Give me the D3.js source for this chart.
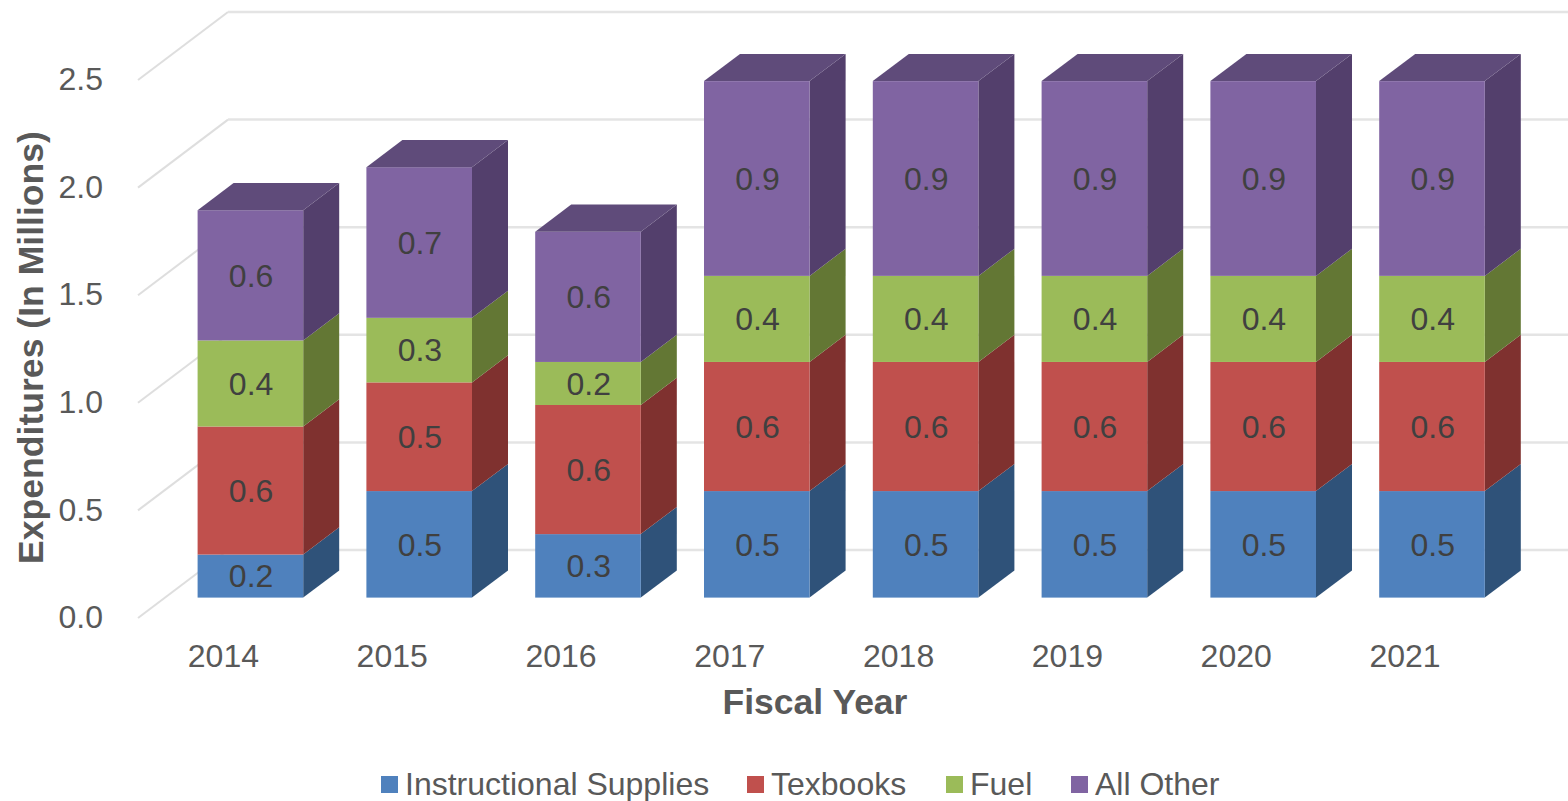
<!DOCTYPE html>
<html>
<head>
<meta charset="utf-8">
<script src="https://cdnjs.cloudflare.com/ajax/libs/d3/7.8.5/d3.min.js"></script>
<style>
html, body { margin: 0; padding: 0; background: #fff; }
svg { display: block; }
text { font-family: "Liberation Sans", Arial, sans-serif; }
</style>
</head>
<body>
<div id="chart"></div>
<script>
'use strict';

var years = ['2014', '2015', '2016', '2017', '2018', '2019', '2020', '2021'];
var seriesNames = ['Instructional Supplies', 'Texbooks', 'Fuel', 'All Other'];
var supplies = [0.2, 0.495, 0.295, 0.495, 0.495, 0.495, 0.495, 0.495];
var textbooks = [0.595, 0.505, 0.6, 0.6, 0.6, 0.6, 0.6, 0.6];
var fuel = [0.4, 0.3, 0.2, 0.4, 0.4, 0.4, 0.4, 0.4];
var allOther = [0.605, 0.7, 0.605, 0.905, 0.905, 0.905, 0.905, 0.905];
var yTicks = [0, 0.5, 1, 1.5, 2, 2.5];

var frontColors = ['#4f81bd', '#c0504d', '#9bbb59', '#8064a2'];
var sideColors = ['#2f5279', '#7f312f', '#637734', '#533f6c'];
var topColor = '#5f4b7a';

var width = 1568;
var height = 801;
var wallDx = 90;
var wallDy = 68;
var barDepth = 0.4;
var barOffset = 0.3;

var svg = d3.select('#chart')
    .append('svg')
    .attr('width', width)
    .attr('height', height);

var x = d3.scaleBand()
    .domain(years)
    .range([139, 139 + 168.8 * years.length])
    .paddingInner(0.3744)
    .paddingOuter(0.1872);

var y = d3.scaleLinear()
    .domain([0, 2.5])
    .range([618, 80]);

// floor + back wall grid
var grid = svg.append('g').attr('fill', 'none');

grid.selectAll('.side-line')
    .data(yTicks)
    .enter()
    .append('path')
    .attr('stroke', '#dedede')
    .attr('stroke-width', 2)
    .attr('d', function(d) {
        return 'M138,' + y(d) + 'L' + (138 + wallDx) + ',' + (y(d) - wallDy);
    });

grid.selectAll('.back-line')
    .data(yTicks)
    .enter()
    .append('path')
    .attr('stroke', '#e4e4e4')
    .attr('stroke-width', 2.5)
    .attr('d', function(d) {
        return 'M' + (138 + wallDx) + ',' + (y(d) - wallDy) + 'H' + width;
    });

// stacked bars
var rows = years.map(function(year, i) {
    return {
        year: year,
        s0: supplies[i],
        s1: textbooks[i],
        s2: fuel[i],
        s3: allOther[i]
    };
});

var stacked = d3.stack().keys(['s0', 's1', 's2', 's3'])(rows);

var depthX = wallDx * barDepth;
var depthY = wallDy * barDepth;
var shiftX = wallDx * barOffset;
var shiftY = wallDy * barOffset;

function frontX(d) {
    return x(d.data.year) + shiftX;
}

function frontY(v) {
    return y(v) - shiftY;
}

var layers = svg.selectAll('.layer')
    .data(stacked)
    .enter()
    .append('g')
    .attr('class', 'layer');

layers.each(function(layer, n) {
    var g = d3.select(this);

    g.selectAll('.side')
        .data(layer)
        .enter()
        .append('path')
        .attr('fill', sideColors[n])
        .attr('d', function(d) {
            var r = frontX(d) + x.bandwidth();
            return 'M' + r + ',' + frontY(d[0]) +
                'L' + (r + depthX) + ',' + (frontY(d[0]) - depthY) +
                'L' + (r + depthX) + ',' + (frontY(d[1]) - depthY) +
                'L' + r + ',' + frontY(d[1]) + 'Z';
        });

    g.selectAll('.front')
        .data(layer)
        .enter()
        .append('rect')
        .attr('fill', frontColors[n])
        .attr('x', frontX)
        .attr('y', function(d) { return frontY(d[1]); })
        .attr('width', x.bandwidth())
        .attr('height', function(d) { return frontY(d[0]) - frontY(d[1]); });

    if (n === stacked.length - 1) {
        g.selectAll('.top')
            .data(layer)
            .enter()
            .append('path')
            .attr('fill', topColor)
            .attr('d', function(d) {
                var l = frontX(d);
                var t = frontY(d[1]);
                return 'M' + l + ',' + t +
                    'L' + (l + depthX) + ',' + (t - depthY) +
                    'L' + (l + x.bandwidth() + depthX) + ',' + (t - depthY) +
                    'L' + (l + x.bandwidth()) + ',' + t + 'Z';
            });
    }

    g.selectAll('.value')
        .data(layer)
        .enter()
        .append('text')
        .attr('x', function(d) { return frontX(d) + x.bandwidth() / 2 + 0.7; })
        .attr('y', function(d) { return (frontY(d[0]) + frontY(d[1])) / 2; })
        .attr('dy', '0.35em')
        .attr('text-anchor', 'middle')
        .attr('font-size', 32)
        .attr('fill', '#404040')
        .text(function(d) { return d3.format('.1f')(d[1] - d[0]); });
});

// axes
var xAxis = svg.append('g')
    .attr('transform', 'translate(0,618)')
    .call(d3.axisBottom(x).tickSize(0).tickPadding(26));

var yAxis = svg.append('g')
    .attr('transform', 'translate(138,0)')
    .call(d3.axisLeft(y).tickValues(yTicks).tickFormat(d3.format('.1f')).tickSize(0).tickPadding(35));

[xAxis, yAxis].forEach(function(axis) {
    axis.select('.domain').remove();
    axis.selectAll('text')
        .attr('font-size', 32)
        .attr('font-family', '"Liberation Sans", Arial, sans-serif')
        .attr('fill', '#595959');
});

yAxis.selectAll('text').attr('dy', '0.3em');

// titles
svg.append('text')
    .attr('x', 815)
    .attr('y', 714)
    .attr('text-anchor', 'middle')
    .attr('font-size', 35.5)
    .attr('font-weight', 'bold')
    .attr('fill', '#595959')
    .text('Fiscal Year');

svg.append('text')
    .attr('transform', 'translate(43,347.5) rotate(-90)')
    .attr('text-anchor', 'middle')
    .attr('font-size', 35.6)
    .attr('font-weight', 'bold')
    .attr('fill', '#595959')
    .text('Expenditures (In Millions)');

// legend
var legendX = [381, 747, 946, 1071];

var legend = svg.selectAll('.legend')
    .data(seriesNames)
    .enter()
    .append('g')
    .attr('class', 'legend')
    .attr('transform', function(d, i) {
        return 'translate(' + legendX[i] + ',776)';
    });

legend.append('rect')
    .attr('width', 17)
    .attr('height', 17)
    .attr('fill', function(d, i) { return frontColors[i]; });

legend.append('text')
    .attr('x', 24)
    .attr('y', 19)
    .attr('font-size', 32)
    .attr('fill', '#595959')
    .text(function(d) { return d; });
</script>
</body>
</html>
